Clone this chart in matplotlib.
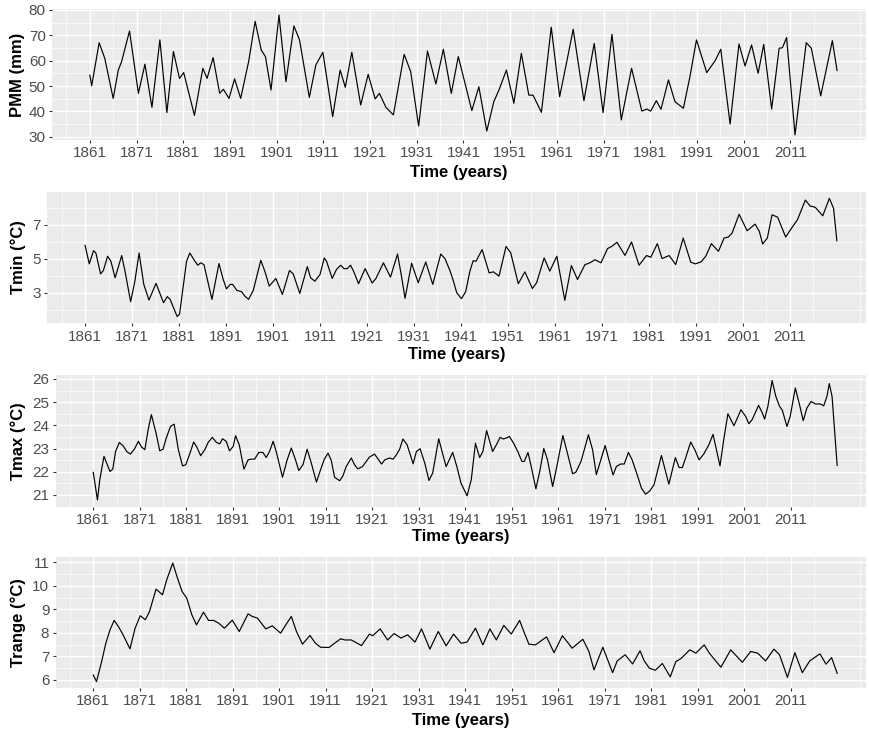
import matplotlib
matplotlib.use("Agg")
import matplotlib.pyplot as plt
import matplotlib.transforms as mtransforms

plt.rcParams['font.family'] = ['Liberation Sans', 'DejaVu Sans']

# --- data (year, value) ---
pmm_years = [1861.0, 1861.4, 1863.0, 1864.2, 1866.0, 1867.1, 1867.8, 1869.5, 1871.4, 1872.8,
             1874.3, 1876.0, 1877.5, 1878.9, 1880.2, 1881.1, 1883.4, 1885.2, 1886.1, 1887.4,
             1888.8, 1889.6, 1890.8, 1892.0, 1893.3, 1895.0, 1896.4, 1897.7, 1898.6, 1899.8,
             1901.5, 1903.0, 1904.7, 1905.9, 1908.0, 1909.4, 1910.9, 1913.0, 1914.6, 1915.7,
             1917.1, 1919.0, 1920.6, 1922.1, 1923.0, 1924.4, 1926.0, 1928.3, 1929.7, 1931.4,
             1933.3, 1935.1, 1936.7, 1938.4, 1939.9, 1942.8, 1944.3, 1946.0, 1947.5, 1948.6,
             1950.2, 1951.8, 1953.4, 1955.0, 1955.9, 1957.7, 1959.8, 1961.6, 1963.2, 1964.5,
             1966.8, 1969.0, 1970.9, 1972.8, 1974.8, 1977.0, 1979.2, 1980.3, 1981.1, 1982.3,
             1983.3, 1984.9, 1986.3, 1988.1, 1989.5, 1990.9, 1993.1, 1994.9, 1996.1, 1998.1,
             2000.0, 2001.3, 2002.7, 2004.1, 2005.3, 2007.0, 2008.6, 2009.3, 2010.2, 2012.0,
             2014.4, 2015.5, 2017.5, 2020.0, 2021.0]
pmm = [54.3, 50.1, 67.1, 60.9, 45.1, 56.3, 59.6, 71.7, 47.1, 58.6,
       41.6, 68.2, 39.5, 63.6, 53.0, 55.3, 38.4, 57.0, 53.0, 61.2,
       47.1, 48.7, 45.1, 52.8, 45.1, 59.6, 75.5, 64.2, 61.6, 48.4,
       78.0, 51.7, 73.7, 68.2, 45.5, 58.3, 63.3, 37.9, 56.3, 49.5,
       63.3, 42.5, 54.6, 44.9, 47.1, 41.6, 38.6, 62.5, 55.7, 34.2,
       63.8, 50.8, 64.5, 47.1, 61.6, 40.3, 49.7, 32.2, 43.8, 48.4,
       56.3, 43.2, 62.9, 46.4, 46.4, 39.6, 73.2, 45.8, 60.3, 72.4,
       44.2, 66.8, 39.5, 70.4, 36.6, 57.0, 40.1, 40.9, 40.1, 44.2,
       40.8, 52.4, 43.8, 41.2, 53.7, 68.2, 55.3, 60.0, 64.5, 35.0,
       66.6, 57.9, 66.2, 55.0, 66.4, 40.9, 64.9, 65.1, 69.1, 30.7,
       67.1, 64.9, 46.1, 67.9, 56.1]

tmin_years = [1861.0, 1861.9, 1862.8, 1863.3, 1864.3, 1864.9, 1865.8, 1866.5, 1867.4, 1868.8,
              1869.5, 1870.7, 1871.6, 1872.5, 1873.5, 1874.6, 1876.1, 1877.7, 1878.5, 1879.1,
              1880.6, 1881.1, 1881.9, 1882.6, 1883.3, 1884.3, 1885.0, 1885.6, 1886.3, 1888.0,
              1889.5, 1890.4, 1891.1, 1891.9, 1892.4, 1893.3, 1894.3, 1895.0, 1895.8, 1896.8,
              1898.4, 1899.3, 1900.2, 1901.6, 1903.0, 1904.5, 1905.3, 1906.7, 1908.3, 1909.0,
              1909.9, 1911.0, 1911.9, 1912.4, 1913.6, 1914.5, 1915.4, 1916.1, 1916.8, 1917.5,
              1918.2, 1919.2, 1920.6, 1922.1, 1922.9, 1924.5, 1926.0, 1927.5, 1928.4, 1929.1,
              1930.5, 1931.9, 1933.5, 1935.0, 1936.7, 1937.6, 1938.7, 1939.4, 1940.1, 1941.1,
              1942.0, 1942.9, 1943.6, 1944.2, 1945.5, 1947.0, 1947.9, 1949.1, 1950.6, 1951.6,
              1953.2, 1954.6, 1956.2, 1957.1, 1958.7, 1959.9, 1961.4, 1963.1, 1964.5, 1965.8,
              1967.4, 1968.1, 1969.0, 1969.5, 1970.8, 1972.2, 1973.1, 1974.2, 1975.9, 1977.3,
              1978.9, 1980.5, 1981.4, 1982.8, 1983.8, 1985.3, 1986.7, 1988.3, 1989.9, 1990.9,
              1992.1, 1993.1, 1994.3, 1995.8, 1997.0, 1997.9, 1998.7, 2000.2, 2001.9, 2003.6,
              2004.5, 2005.2, 2006.2, 2007.2, 2008.4, 2010.1, 2011.6, 2012.6, 2014.3, 2015.3,
              2016.4, 2018.0, 2019.4, 2020.3, 2021.0]
tmin = [5.79, 4.70, 5.48, 5.34, 4.11, 4.31, 5.15, 4.85, 3.88, 5.19,
        4.27, 2.47, 3.68, 5.34, 3.49, 2.57, 3.55, 2.41, 2.77, 2.61,
        1.60, 1.73, 3.39, 4.85, 5.34, 4.89, 4.62, 4.76, 4.66, 2.61,
        4.72, 3.78, 3.23, 3.49, 3.49, 3.14, 3.06, 2.80, 2.61, 3.14,
        4.91, 4.23, 3.39, 3.84, 2.90, 4.31, 4.11, 2.96, 4.54, 3.88,
        3.68, 4.07, 5.05, 4.85, 3.84, 4.37, 4.62, 4.42, 4.42, 4.62,
        4.23, 3.53, 4.42, 3.57, 3.84, 4.76, 3.92, 5.28, 3.88, 2.67,
        4.74, 3.59, 4.81, 3.49, 5.28, 5.01, 4.27, 3.68, 3.00, 2.65,
        3.06, 4.27, 4.89, 4.85, 5.54, 4.17, 4.23, 3.98, 5.73, 5.34,
        3.53, 4.23, 3.25, 3.59, 5.05, 4.27, 5.15, 2.55, 4.60, 3.78,
        4.66, 4.72, 4.85, 4.95, 4.76, 5.60, 5.73, 5.97, 5.20, 5.99,
        4.62, 5.19, 5.09, 5.89, 5.01, 5.19, 4.66, 6.22, 4.80, 4.70,
        4.82, 5.15, 5.89, 5.44, 6.22, 6.28, 6.51, 7.62, 6.65, 7.04,
        6.61, 5.87, 6.22, 7.59, 7.45, 6.28, 6.90, 7.29, 8.46, 8.11,
        8.03, 7.53, 8.56, 7.97, 6.06]

tmax_years = [1861.0, 1861.9, 1862.4, 1863.3, 1864.6, 1865.2, 1865.8, 1866.6, 1867.4, 1868.2,
              1869.0, 1869.9, 1870.7, 1871.4, 1872.1, 1872.8, 1873.5, 1874.5, 1875.3, 1876.0,
              1876.7, 1877.6, 1878.4, 1879.3, 1880.2, 1880.9, 1881.8, 1882.6, 1883.3, 1884.1,
              1885.0, 1885.7, 1886.6, 1887.5, 1888.2, 1888.8, 1889.6, 1890.3, 1891.1, 1891.6,
              1892.4, 1893.4, 1894.3, 1895.0, 1895.7, 1896.6, 1897.5, 1898.2, 1898.9, 1899.7,
              1900.4, 1901.7, 1902.7, 1903.6, 1904.5, 1905.2, 1906.1, 1907.0, 1907.9, 1909.0,
              1910.0, 1910.7, 1911.5, 1912.2, 1912.9, 1914.0, 1914.7, 1915.4, 1916.5, 1917.2,
              1917.9, 1918.9, 1919.7, 1920.4, 1921.5, 1923.0, 1923.7, 1924.7, 1925.5, 1926.2,
              1926.9, 1927.6, 1928.5, 1929.8, 1930.5, 1931.3, 1932.3, 1933.2, 1934.0, 1935.3,
              1936.2, 1936.9, 1938.3, 1939.2, 1940.1, 1941.4, 1942.3, 1943.2, 1944.1, 1944.8,
              1945.6, 1946.9, 1947.7, 1948.5, 1949.2, 1949.8, 1950.5, 1951.4, 1952.3, 1953.2,
              1953.7, 1954.5, 1955.2, 1956.2, 1957.1, 1957.9, 1958.7, 1959.8, 1960.7, 1962.0,
              1962.8, 1964.1, 1964.8, 1965.9, 1966.6, 1967.5, 1968.4, 1969.2, 1971.1, 1971.9,
              1972.8, 1973.5, 1974.4, 1975.2, 1976.1, 1976.9, 1978.0, 1978.9, 1979.8, 1980.7,
              1981.6, 1983.2, 1984.8, 1986.2, 1987.0, 1987.7, 1988.4, 1989.5, 1990.4, 1991.3,
              1992.3, 1993.4, 1994.3, 1995.2, 1995.8, 1996.6, 1997.5, 1998.8, 2000.3, 2001.3,
              2002.0, 2002.7, 2004.1, 2004.9, 2005.4, 2006.1, 2007.0, 2007.8, 2008.6, 2009.2,
              2010.2, 2010.9, 2012.0, 2012.9, 2013.7, 2014.5, 2015.4, 2016.3, 2017.4, 2018.1,
              2018.8, 2019.3, 2019.9, 2021.0]
tmax = [21.97, 20.78, 21.65, 22.66, 22.01, 22.11, 22.87, 23.26, 23.12, 22.87,
        22.76, 22.99, 23.31, 23.06, 22.95, 23.81, 24.46, 23.67, 22.90, 22.97,
        23.45, 23.95, 24.05, 22.95, 22.25, 22.30, 22.80, 23.28, 23.05, 22.69,
        22.95, 23.26, 23.48, 23.26, 23.20, 23.42, 23.31, 22.90, 23.09, 23.55,
        23.16, 22.11, 22.51, 22.54, 22.54, 22.83, 22.83, 22.61, 22.87, 23.31,
        22.83, 21.76, 22.51, 23.02, 22.51, 22.05, 22.30, 22.97, 22.37, 21.55,
        22.15, 22.54, 22.80, 22.48, 21.76, 21.61, 21.82, 22.22, 22.59, 22.30,
        22.12, 22.22, 22.44, 22.63, 22.76, 22.33, 22.51, 22.59, 22.54, 22.73,
        22.97, 23.41, 23.16, 22.34, 22.87, 22.99, 22.37, 21.62, 21.94, 23.42,
        22.73, 22.22, 22.83, 22.22, 21.50, 20.96, 21.65, 23.23, 22.61, 22.87,
        23.77, 22.87, 23.16, 23.48, 23.41, 23.45, 23.52, 23.23, 22.87, 22.44,
        22.44, 22.83, 22.22, 21.26, 22.08, 23.00, 22.51, 21.36, 22.22, 23.56,
        22.94, 21.91, 21.98, 22.44, 22.94, 23.59, 22.94, 21.87, 23.13, 22.51,
        21.86, 22.22, 22.33, 22.33, 22.83, 22.51, 21.86, 21.29, 21.03, 21.17,
        21.43, 22.70, 21.46, 22.61, 22.18, 22.18, 22.59, 23.28, 22.94, 22.51,
        22.76, 23.16, 23.61, 22.80, 22.25, 23.38, 24.50, 23.98, 24.67, 24.39,
        24.07, 24.24, 24.86, 24.53, 24.27, 24.82, 25.93, 25.25, 24.82, 24.65,
        23.95, 24.39, 25.61, 24.89, 24.20, 24.75, 25.03, 24.92, 24.92, 24.84,
        25.25, 25.80, 25.25, 22.27]

trange_years = [1861.0, 1861.7, 1862.8, 1863.7, 1864.6, 1865.5, 1866.4, 1867.3, 1868.9, 1870.0,
                1871.1, 1872.2, 1873.1, 1874.5, 1875.9, 1876.8, 1878.1, 1879.0, 1880.1, 1881.1,
                1882.2, 1883.2, 1884.7, 1885.8, 1886.9, 1888.0, 1889.2, 1890.9, 1892.4, 1894.3,
                1895.2, 1896.3, 1898.1, 1899.5, 1901.3, 1902.4, 1903.6, 1904.7, 1906.0, 1907.6,
                1908.8, 1909.9, 1911.7, 1912.9, 1914.2, 1915.1, 1916.5, 1918.7, 1920.4, 1921.1,
                1922.7, 1924.3, 1925.7, 1927.2, 1928.6, 1930.2, 1931.6, 1933.4, 1935.2, 1936.9,
                1938.5, 1940.1, 1941.4, 1943.2, 1944.8, 1946.3, 1947.7, 1949.3, 1950.9, 1952.7,
                1953.6, 1954.7, 1956.1, 1958.5, 1960.1, 1961.9, 1964.0, 1966.3, 1967.6, 1968.7,
                1970.6, 1972.7, 1973.7, 1975.4, 1977.0, 1978.6, 1979.5, 1980.6, 1981.9, 1983.4,
                1985.1, 1986.3, 1987.4, 1989.3, 1990.6, 1992.4, 1993.5, 1996.0, 1998.1, 2000.6,
                2002.4, 2003.9, 2005.6, 2007.4, 2008.6, 2010.3, 2011.9, 2013.5, 2015.1, 2017.3,
                2018.6, 2019.8, 2021.0]
trange = [6.21, 5.93, 6.78, 7.56, 8.13, 8.53, 8.27, 7.96, 7.32, 8.20,
          8.73, 8.56, 8.91, 9.86, 9.62, 10.26, 10.97, 10.40, 9.76, 9.48,
          8.77, 8.34, 8.88, 8.53, 8.53, 8.41, 8.20, 8.54, 8.06, 8.81,
          8.70, 8.63, 8.17, 8.30, 7.99, 8.34, 8.70, 8.06, 7.52, 7.89,
          7.56, 7.39, 7.38, 7.56, 7.75, 7.70, 7.70, 7.46, 7.95, 7.88,
          8.17, 7.70, 7.97, 7.78, 7.92, 7.61, 8.17, 7.31, 8.06, 7.45,
          7.95, 7.56, 7.61, 8.20, 7.49, 8.17, 7.70, 8.32, 7.95, 8.53,
          8.06, 7.52, 7.49, 7.83, 7.16, 7.88, 7.35, 7.73, 7.21, 6.43,
          7.39, 6.31, 6.81, 7.07, 6.68, 7.24, 6.81, 6.50, 6.41, 6.70,
          6.13, 6.78, 6.91, 7.28, 7.14, 7.49, 7.14, 6.54, 7.28, 6.75,
          7.21, 7.14, 6.81, 7.31, 7.07, 6.11, 7.16, 6.31, 6.81, 7.11,
          6.67, 6.95, 6.28]

x_ticks = list(range(1861, 2012, 10))
x_minor = list(range(1856, 2027, 10))

W, H = 869, 730
fig = plt.figure(figsize=(W / 100, H / 100), dpi=100)


def add_panel(box, years, values, ylabel, yticks, yminor, ylim, xlabel_y):
    left, top, right, bottom = box
    ax = fig.add_axes([left / W, 1 - bottom / H, (right - left) / W, (bottom - top) / H])
    ax.set_facecolor('#EBEBEB')
    ax.plot(years, values, color='black', lw=0.85, solid_joinstyle='round')
    ax.set_xlim(1852.9, 2027.2)
    ax.set_ylim(*ylim)
    ax.set_xticks(x_ticks)
    ax.set_xticks(x_minor, minor=True)
    ax.set_yticks(yticks)
    ax.set_yticks(yminor, minor=True)
    ax.grid(which='major', color='white', lw=1.0)
    ax.grid(which='minor', color='white', lw=0.5)
    ax.set_axisbelow(True)
    for s in ax.spines.values():
        s.set_visible(False)
    ax.tick_params(which='major', length=2.5, width=0.8, color='#333333',
                   labelcolor='#4D4D4D', labelsize=11, pad=2)
    ax.tick_params(which='minor', length=0)
    ax.set_ylabel(ylabel, fontsize=12, fontweight='bold', va='center')
    ax.yaxis.set_label_coords(18 / W, 0.5, transform=mtransforms.blended_transform_factory(fig.transFigure, ax.transAxes))
    ax.set_xlabel('Time (years)', fontsize=12, fontweight='bold', va='center')
    ax.xaxis.set_label_coords(0.5, 1 - xlabel_y / H, transform=mtransforms.blended_transform_factory(ax.transAxes, fig.transFigure))
    return ax


add_panel((52, 9.1, 866, 140.1), pmm_years, pmm, 'PMM (mm)',
          [30, 40, 50, 60, 70, 80], [35, 45, 55, 65, 75], (28.65, 80.35), 172)
add_panel((47, 191.7, 866, 323.3), tmin_years, tmin, 'Tmin (°C)',
          [3, 5, 7], [2, 4, 6, 8], (1.2, 8.95), 354)
add_panel((55.6, 375, 866, 506.7), tmax_years, tmax, 'Tmax (°C)',
          [21, 22, 23, 24, 25, 26], [21.5, 22.5, 23.5, 24.5, 25.5], (20.49, 26.17), 537)
add_panel((55.6, 556.7, 866, 687.7), trange_years, trange, 'Trange (°C)',
          [6, 7, 8, 9, 10, 11], [6.5, 7.5, 8.5, 9.5, 10.5], (5.67, 11.24), 720)

fig.savefig('out.png', dpi=100)
